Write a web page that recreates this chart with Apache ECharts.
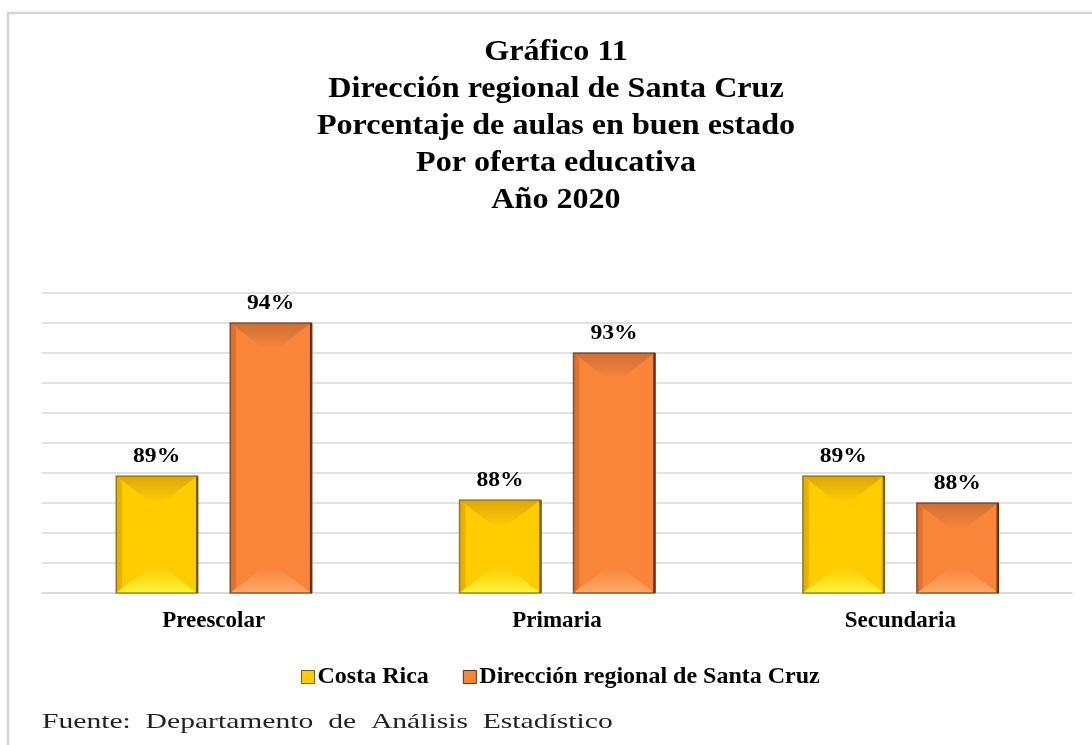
<!DOCTYPE html>
<html>
<head>
<meta charset="utf-8">
<script src="https://cdn.jsdelivr.net/npm/echarts@6/dist/echarts.min.js"></script>
<style>
  html, body { margin: 0; padding: 0; background: #fff; }
  #main { width: 1092px; height: 745px; }
</style>
</head>
<body>
<div id="main"></div>
<script>
// datos del gráfico
var categorias = ['Preescolar', 'Primaria', 'Secundaria'];
var costaRica = [88.9, 88.1, 88.9];
var santaCruz = [94.0, 93.0, 88.0];
var nombres = ['Costa Rica', 'Dirección regional de Santa Cruz'];
var tituloLineas = ['Gráfico 11', 'Dirección regional de Santa Cruz', 'Porcentaje de aulas en buen estado', 'Por oferta educativa', 'Año 2020'];
var fuente = 'Fuente:  Departamento  de  Análisis  Estadístico';

var yMin = 85, yMax = 95;
var serif = '"Liberation Serif", "DejaVu Serif", serif';

// colores de las barras con bisel
var amarillo = { main: '#FFCC00', top: '#DDA60A', bottom: '#FFF33A', left: '#E0AA00', edge: '#7A5C00' };
var naranja = { main: '#F8853A', top: '#CF6F35', bottom: '#FBAA66', left: '#D96D2C', edge: '#5E3216' };

function barraBisel(desplaz, col) {
  return function (params, api) {
    var cat = api.value(0), val = api.value(1);
    var banda = api.size([1, 0])[0];
    var w = banda * 0.236;
    var p = api.coord([cat, val]);
    var base = api.coord([cat, yMin]);
    var cx = p[0] + banda * desplaz;
    var x0 = cx - w / 2, x1 = cx + w / 2, y0 = p[1], y1 = base[1];
    var h = Math.min(26, (y1 - y0) / 3);
    var d = w * 0.42;
    var s = 6;
    return {
      type: 'group',
      children: [
        { type: 'rect', shape: { x: x0, y: y0, width: w, height: y1 - y0 },
          style: { fill: new echarts.graphic.LinearGradient(0, 0, 1, 0, [
            { offset: 0, color: col.left }, { offset: 0.08, color: col.main },
            { offset: 0.9, color: col.main }, { offset: 1, color: col.main }]) } },
        { type: 'polygon', shape: { points: [[x0, y0], [x1, y0], [x1 - d, y0 + h], [x0 + d, y0 + h]] },
          style: { fill: new echarts.graphic.LinearGradient(0, 0, 0, 1, [
            { offset: 0, color: col.top }, { offset: 1, color: col.main }]) } },
        { type: 'polygon', shape: { points: [[x0, y1], [x1, y1], [x1 - d, y1 - h], [x0 + d, y1 - h]] },
          style: { fill: new echarts.graphic.LinearGradient(0, 1, 0, 0, [
            { offset: 0, color: col.bottom }, { offset: 1, color: col.main }]) } },
        { type: 'polygon', shape: { points: [[x0, y0], [x0 + s, y0 + s], [x0 + s, y1 - s], [x0, y1]] },
          style: { fill: col.left, opacity: 0.6 } },
        { type: 'rect', shape: { x: x0, y: y0, width: w, height: y1 - y0 },
          style: { fill: 'none', stroke: col.edge, lineWidth: 1.5, opacity: 0.7 } },
        { type: 'line', shape: { x1: x1, y1: y0, x2: x1, y2: y1 },
          style: { stroke: col.edge, lineWidth: 2.5 } },
        { type: 'text', x: cx, y: y0 - 9, scaleX: 1.18,
          style: { text: Math.round(val) + '%', align: 'center', verticalAlign: 'bottom',
            font: 'bold 20px ' + serif, fill: '#000' } }
      ]
    };
  };
}

var chart = echarts.init(document.getElementById('main'));
chart.setOption({
  animation: false,
  legend: {
    data: [
      { name: nombres[0], itemStyle: { color: amarillo.main, borderColor: amarillo.edge, borderWidth: 1 } },
      { name: nombres[1], itemStyle: { color: naranja.main, borderColor: naranja.edge, borderWidth: 1 } }
    ],
    left: 296, top: 660,
    icon: 'rect', itemWidth: 13, itemHeight: 13, itemGap: 34,
    textStyle: { fontFamily: serif, fontSize: 24, fontWeight: 'bold', color: '#000', padding: [0, 0, 0, -2] }
  },
  grid: { left: 42, right: 20, top: 293, bottom: 152 },
  xAxis: {
    type: 'category', data: categorias,
    axisLine: { show: true, lineStyle: { color: '#d9d9d9', width: 1.5 } },
    axisTick: { show: false },
    axisLabel: { margin: 17, fontFamily: serif, fontSize: 23, fontWeight: 'bold', color: '#000' }
  },
  yAxis: {
    type: 'value', min: yMin, max: yMax, interval: 1,
    axisLabel: { show: false }, axisLine: { show: false }, axisTick: { show: false },
    splitLine: { lineStyle: { color: '#d9d9d9', width: 1.5 } }
  },
  series: [
    { name: nombres[0], type: 'custom', itemStyle: { color: amarillo.main },
      renderItem: barraBisel(-0.166, amarillo),
      data: costaRica.map(function (v, i) { return [i, v]; }) },
    { name: nombres[1], type: 'custom', itemStyle: { color: naranja.main },
      renderItem: barraBisel(0.166, naranja),
      data: santaCruz.map(function (v, i) { return [i, v]; }) }
  ],
  graphic: [
    { type: 'polyline', silent: true, shape: { points: [[8, 745], [8, 13], [1092, 13]] },
      style: { stroke: '#d6d6d6', lineWidth: 2.5, fill: 'none' } },
    // título
    { type: 'text', x: 556, y: 34, scaleX: 1.07,
      style: { text: tituloLineas.join('\n'), align: 'center', verticalAlign: 'top',
        font: 'bold 30px ' + serif, lineHeight: 37, fill: '#000' } },
    { type: 'text', left: 42, top: 712, scaleX: 1.41,
      style: { text: fuente, font: '21px ' + serif, fill: '#222' } }
  ]
});
</script>
</body>
</html>
